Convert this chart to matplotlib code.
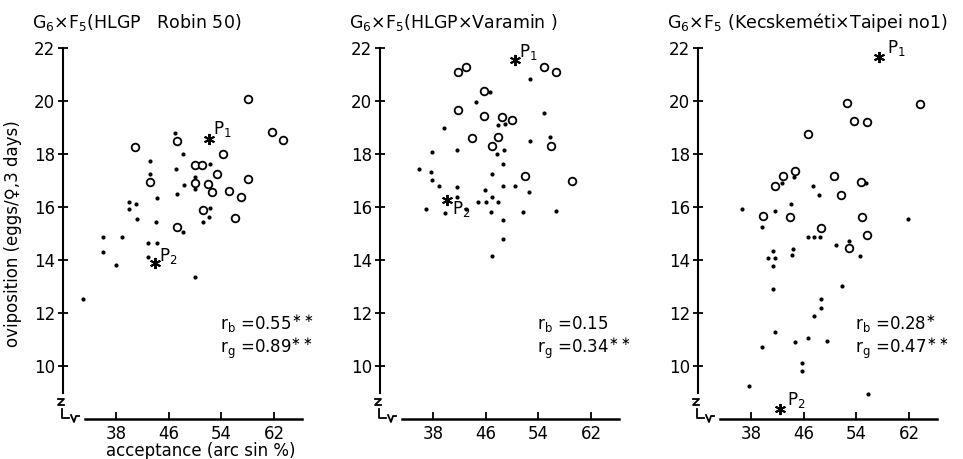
import matplotlib
matplotlib.use("Agg")
import matplotlib.pyplot as plt

# ---------------- data ----------------
x_ticks = [38, 46, 54, 62]
y_ticks = [10, 12, 14, 16, 18, 20, 22]

titles = [r"G$_6$×F$_5$(HLGP   Robin 50)",
          r"G$_6$×F$_5$(HLGP×Varamin )",
          r"G$_6$×F$_5$ (Kecskeméti×Taipei no1)"]

stats = [(r"r$_\mathrm{b}$ =0.55$^{\ast\ast}$", r"r$_\mathrm{g}$ =0.89$^{\ast\ast}$"),
         (r"r$_\mathrm{b}$ =0.15", r"r$_\mathrm{g}$ =0.34$^{\ast\ast}$"),
         (r"r$_\mathrm{b}$ =0.28$^{\ast}$", r"r$_\mathrm{g}$ =0.47$^{\ast\ast}$")]

# panel 1 : HLGP x Robin 50
robin_dot_x = [47.0, 43.2, 48.1, 43.2, 47.1, 52.2, 50.0, 48.3, 50.0, 47.2, 44.2, 40.0, 41.0,
               40.0, 41.2, 44.1, 52.3, 52.1, 51.2, 36.1, 38.9, 36.1, 38.0, 42.9, 44.3, 42.9,
               33.0, 50.0, 48.1]
robin_dot_y = [18.78, 17.75, 17.99, 17.25, 17.42, 17.62, 17.14, 16.82, 16.67, 16.49, 16.33,
               16.2, 16.11, 15.91, 15.54, 15.45, 15.95, 15.63, 15.45, 14.86, 14.86, 14.31,
               13.81, 14.63, 14.65, 14.12, 12.54, 13.35, 15.07]
robin_circ_x = [40.9, 47.2, 58.0, 61.7, 63.3, 54.2, 50.0, 51.1, 53.3, 43.2, 50.0, 51.9, 52.5,
                58.0, 55.1, 56.9, 51.2, 56.1, 47.2]
robin_circ_y = [18.28, 18.48, 20.09, 18.83, 18.53, 18.0, 17.6, 17.6, 17.23, 16.93, 16.92,
                16.86, 16.55, 17.05, 16.62, 16.38, 15.89, 15.6, 15.26]
robin_p1 = (52.1, 18.55)
robin_p2 = (43.9, 13.87)

# panel 2 : HLGP x Varamin
var_dot_x = [52.7, 46.7, 44.6, 54.8, 47.8, 48.9, 39.7, 55.7, 52.7, 37.8, 41.7, 47.7, 48.8,
             48.7, 35.9, 37.7, 37.8, 46.9, 38.9, 41.7, 48.7, 50.5, 45.9, 52.6, 41.7, 46.9,
             44.9, 46.1, 47.9, 36.9, 43.0, 39.8, 46.8, 51.7, 56.6, 48.7, 48.7, 46.9]
var_dot_y = [20.83, 20.35, 19.95, 19.56, 19.09, 19.13, 18.97, 18.65, 18.49, 18.09, 18.15,
             17.99, 18.15, 17.61, 17.43, 17.33, 17.02, 17.23, 16.79, 16.74, 16.8, 16.8, 16.64,
             16.55, 16.39, 16.39, 16.2, 16.17, 16.2, 15.92, 15.92, 15.76, 15.8, 15.83, 15.86,
             15.51, 14.78, 14.15]
var_circ_x = [41.8, 43.1, 45.8, 41.8, 45.7, 48.5, 50.0, 43.9, 47.9, 47.0, 55.9, 54.8, 56.7,
              52.0, 59.1]
var_circ_y = [21.11, 21.3, 20.39, 19.66, 19.45, 19.41, 19.28, 18.62, 18.65, 18.3, 18.31,
              21.3, 21.08, 17.18, 16.98]
var_p1 = (50.4, 21.55)
var_p2 = (40.1, 16.26)

# panel 3 : Kecskemeti x Taipei no1
kec_dot_x = [36.7, 41.6, 42.7, 44.6, 44.1, 47.4, 48.4, 55.5, 61.8, 39.7, 46.6, 47.6, 48.5,
             50.9, 52.8, 54.5, 44.4, 44.3, 40.6, 41.3, 41.6, 41.4, 41.4, 51.8, 48.6, 48.7,
             47.5, 41.7, 39.7, 44.7, 46.7, 49.6, 45.7, 45.7, 37.7, 55.8]
kec_dot_y = [15.91, 15.84, 16.89, 17.14, 16.11, 16.8, 16.45, 16.89, 15.55, 15.23, 14.86,
             14.86, 14.86, 14.57, 14.72, 14.16, 14.42, 14.19, 14.09, 14.34, 14.06, 13.78,
             12.9, 13.03, 12.52, 12.18, 11.89, 11.27, 10.7, 10.92, 11.07, 10.95, 10.12, 9.82,
             9.26, 8.94]
kec_circ_x = [52.5, 53.6, 55.6, 63.6, 46.7, 41.6, 42.9, 44.7, 50.6, 54.7, 51.7, 39.9, 43.9,
              54.8, 48.6, 52.9, 55.6]
kec_circ_y = [19.94, 19.26, 19.22, 19.88, 18.75, 16.8, 17.18, 17.37, 17.18, 16.93, 16.44,
              15.66, 15.61, 15.64, 15.19, 14.46, 14.95]
kec_p1 = (57.4, 21.65)
kec_p2 = (42.4, 8.38)

panels = [
    (robin_dot_x, robin_dot_y, robin_circ_x, robin_circ_y, robin_p1, robin_p2),
    (var_dot_x, var_dot_y, var_circ_x, var_circ_y, var_p1, var_p2),
    (kec_dot_x, kec_dot_y, kec_circ_x, kec_circ_y, kec_p1, kec_p2),
]
# offsets (points) of the P labels from their star
p1_off = [(3, 4), (3, 2), (6, 3)]
p2_off = [(3, 2), (4, -10), (5, 3)]

plt.rcParams['font.family'] = ['DejaVu Sans']
plt.rcParams['mathtext.fontset'] = 'dejavusans'

fig = plt.figure(figsize=(9.63, 4.59), dpi=100)
lefts = [63 / 963, 380 / 963, 698 / 963]
W, H = 241.0, 371.0   # axes size in px


def px(dx, dy):
  # pixel offset from axes lower-left corner -> axes fraction
  return dx / W, dy / H


def draw_break(ax):     # little hand drawn axis break at the corner
  pts = [[(-5, 20), (1, 20), (-5, 14), (1, 14)],
         [(-1, 10), (-1, 1), (6, 1)],
         [(8, 4), (11, -3), (13, 3), (16, 3)]]
  for seg in pts:
    xs = [px(a, b)[0] for a, b in seg]
    ys = [px(a, b)[1] for a, b in seg]
    ax.plot(xs, ys, color='black', lw=1.3, transform=ax.transAxes, clip_on=False)


for i, (dx, dy, cx, cy, p1, p2) in enumerate(panels):
  ax = fig.add_axes([lefts[i], 40 / 459, W / 963, H / 459])
  ax.set_xlim(30, 66.5)
  ax.set_ylim(8, 22)
  for s in ('top', 'right'):
    ax.spines[s].set_visible(False)
  ax.spines['left'].set_bounds(9, 22)
  ax.spines['bottom'].set_bounds(33.3, 66.2)
  ax.spines['left'].set_linewidth(1.5)
  ax.spines['bottom'].set_linewidth(1.8)
  ax.set_xticks(x_ticks)
  ax.set_yticks(y_ticks)
  ax.tick_params(axis='x', direction='in', length=5, width=1.3, labelsize=12, pad=4)
  ax.tick_params(axis='y', direction='inout', length=7, width=1.3, labelsize=12, pad=2)

  ax.plot(dx, dy, 'o', color='black', ms=3, mew=0, clip_on=False)
  ax.plot(cx, cy, 'o', mfc='white', mec='black', ms=5.5, mew=1.3, clip_on=False)
  ax.plot([p1[0]], [p1[1]], marker=(6, 2, 0), color='black', ms=8, mew=1.4, clip_on=False)
  ax.plot([p2[0]], [p2[1]], marker=(6, 2, 0), color='black', ms=8, mew=1.4, clip_on=False)
  ax.annotate(r"P$_1$", p1, xytext=p1_off[i], textcoords='offset points', fontsize=12)
  ax.annotate(r"P$_2$", p2, xytext=p2_off[i], textcoords='offset points', fontsize=12)

  ax.text(-0.13, 1.07, titles[i], transform=ax.transAxes, fontsize=12.5, va='center', ha='left')
  ax.text(0.65, 0.255, stats[i][0], transform=ax.transAxes, fontsize=12, va='center')
  ax.text(0.65, 0.19, stats[i][1], transform=ax.transAxes, fontsize=12, va='center')
  draw_break(ax)

  if i == 0:
    ax.set_ylabel("oviposition (eggs/♀,3 days)", fontsize=12)
    ax.yaxis.set_label_coords(-0.17, 0.5)
    ax.set_xlabel("acceptance (arc sin %)", fontsize=12)
    ax.xaxis.set_label_coords(0.57, -0.062)

fig.savefig("out.png", dpi=100)
